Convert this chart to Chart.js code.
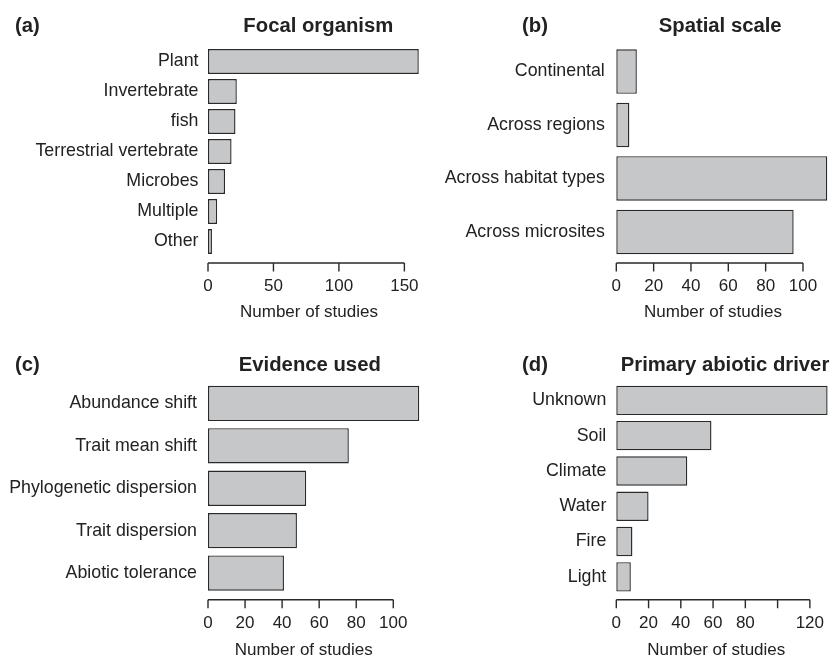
<!DOCTYPE html>
<html>
<head>
<meta charset="utf-8">
<script src="https://cdn.jsdelivr.net/npm/chart.js@4"></script>
<style>
  body { margin: 0; background: #fff; }
  #wrap { position: relative; width: 832px; height: 658px; }
  #wrap canvas { position: absolute; left: 0; top: 0; }
</style>
</head>
<body>
<div id="wrap">
  <canvas id="chartA" width="832" height="658"></canvas>
  <canvas id="chartB" width="832" height="658"></canvas>
  <canvas id="chartC" width="832" height="658"></canvas>
  <canvas id="chartD" width="832" height="658"></canvas>
</div>
<script>
// data
const organismLabels = ['Plant', 'Invertebrate', 'fish', 'Terrestrial vertebrate', 'Microbes', 'Multiple', 'Other'];
const organismCounts = [161, 22, 21, 18, 13, 7, 3];
const organismTicks = [0, 50, 100, 150];
const organismTickLabels = ['0', '50', '100', '150'];

const scaleLabels = ['Continental', 'Across regions', 'Across habitat types', 'Across microsites'];
const scaleCounts = [11, 7, 113, 95];
const scaleTicks = [0, 20, 40, 60, 80, 100];
const scaleTickLabels = ['0', '20', '40', '60', '80', '100'];

const evidenceLabels = ['Abundance shift', 'Trait mean shift', 'Phylogenetic dispersion', 'Trait dispersion', 'Abiotic tolerance'];
const evidenceCounts = [114, 76, 53, 48, 41];
const evidenceTicks = [0, 20, 40, 60, 80, 100];
const evidenceTickLabels = ['0', '20', '40', '60', '80', '100'];

const driverLabels = ['Unknown', 'Soil', 'Climate', 'Water', 'Fire', 'Light'];
const driverCounts = [131, 59, 44, 20, 10, 9];
const driverTicks = [0, 20, 40, 60, 80, 100, 120];
const driverTickLabels = ['0', '20', '40', '60', '80', '', '120'];

const FONT = "'Liberation Sans', Arial, sans-serif";
const INK = '#222';
const W = 832, H = 658;

// panel layout (page pixels)
const panels = [
  { id: 'chartA', tag: '(a)', title: 'Focal organism', labels: organismLabels, counts: organismCounts,
    ticks: organismTicks, tickLabels: organismTickLabels, xMax: 154.3,
    left: 208, right: 410, top: 46.5, bottom: 256.5, axisY: 263, labelPad: 9.5,
    tagX: 15, titleX: 318.3, titleY: 31.5, xTitleY: 312.5, tickY: 286 },
  { id: 'chartB', tag: '(b)', title: 'Spatial scale', labels: scaleLabels, counts: scaleCounts,
    ticks: scaleTicks, tickLabels: scaleTickLabels, xMax: 103.6,
    left: 616.3, right: 809.7, top: 44.8, bottom: 258.7, axisY: 263, labelPad: 11.5,
    tagX: 522, titleX: 720.2, titleY: 31.5, xTitleY: 312.5, tickY: 286 },
  { id: 'chartC', tag: '(c)', title: 'Evidence used', labels: evidenceLabels, counts: evidenceCounts,
    ticks: evidenceTicks, tickLabels: evidenceTickLabels, xMax: 103.3,
    left: 208, right: 399.4, top: 382.2, bottom: 594.3, axisY: 599.7, labelPad: 11,
    tagX: 15, titleX: 309.8, titleY: 370.5, xTitleY: 650, tickY: 623 },
  { id: 'chartD', tag: '(d)', title: 'Primary abiotic driver', labels: driverLabels, counts: driverCounts,
    ticks: driverTicks, tickLabels: driverTickLabels, xMax: 124,
    left: 616.3, right: 816.3, top: 382.7, bottom: 594.5, axisY: 599.7, labelPad: 10,
    tagX: 522, titleX: 725, titleY: 370.5, xTitleY: 650, tickY: 623 }
];

// R-style axis: line from first to last tick, ticks pointing down
const axisPlugin = {
  id: 'rAxis',
  afterDraw(chart, args, opts) {
    const p = opts.panel;
    const xs = chart.scales.x;
    const ctx = chart.ctx;
    ctx.save();
    ctx.strokeStyle = '#2a2a2a';
    ctx.lineWidth = 1.4;
    ctx.beginPath();
    ctx.moveTo(xs.getPixelForValue(p.ticks[0]), p.axisY);
    ctx.lineTo(xs.getPixelForValue(p.ticks[p.ticks.length - 1]), p.axisY);
    p.ticks.forEach(v => {
      const px = xs.getPixelForValue(v);
      ctx.moveTo(px, p.axisY);
      ctx.lineTo(px, p.axisY + 8.5);
    });
    ctx.stroke();

    // panel tag and main title
    ctx.fillStyle = INK;
    ctx.font = 'bold 20.3px ' + FONT;
    ctx.textBaseline = 'alphabetic';
    ctx.textAlign = 'left';
    ctx.fillText(p.tag, p.tagX, p.titleY);
    ctx.textAlign = 'center';
    ctx.fillText(p.title, p.titleX, p.titleY);
    ctx.restore();
  }
};

function makeChart(p) {
  const xAxisH = p.xTitleY + 10.2 - p.bottom;
  new Chart(document.getElementById(p.id), {
    type: 'bar',
    data: {
      labels: p.labels,
      datasets: [{
        data: p.counts,
        backgroundColor: '#c6c7c9',
        borderColor: '#2a2a2a',
        borderWidth: 1.4,
        borderSkipped: false,
        barPercentage: 0.833,
        categoryPercentage: 1,
        clip: false
      }]
    },
    options: {
      indexAxis: 'y',
      responsive: false,
      animation: false,
      events: [],
      layout: {
        padding: { left: 0, top: p.top, right: W - p.right, bottom: H - p.bottom - xAxisH }
      },
      plugins: {
        legend: { display: false },
        tooltip: { enabled: false },
        rAxis: { panel: p }
      },
      scales: {
        x: {
          type: 'linear',
          min: 0,
          max: p.xMax,
          // tick marks are drawn by rAxis; tickLength only spaces the labels
          grid: { display: false, drawTicks: true, tickLength: p.tickY - p.bottom - 10.2 },
          border: { display: false },
          afterBuildTicks: s => { s.ticks = p.ticks.map(v => ({ value: v })); },
          afterFit: s => { s.height = xAxisH; },
          ticks: {
            autoSkip: false,
            maxRotation: 0,
            padding: 0,
            color: INK,
            font: { family: FONT, size: 17 },
            callback: (v, i) => p.tickLabels[i]
          },
          title: {
            display: true,
            text: 'Number of studies',
            color: INK,
            padding: 0,
            font: { family: FONT, size: 17 }
          }
        },
        y: {
          grid: { display: false, drawTicks: false },
          border: { display: false },
          afterFit: s => { s.width = p.left; },
          ticks: {
            padding: p.labelPad,
            color: INK,
            font: { family: FONT, size: 17.8 }
          }
        }
      }
    },
    plugins: [axisPlugin]
  });
}

panels.forEach(makeChart);
</script>
</body>
</html>
